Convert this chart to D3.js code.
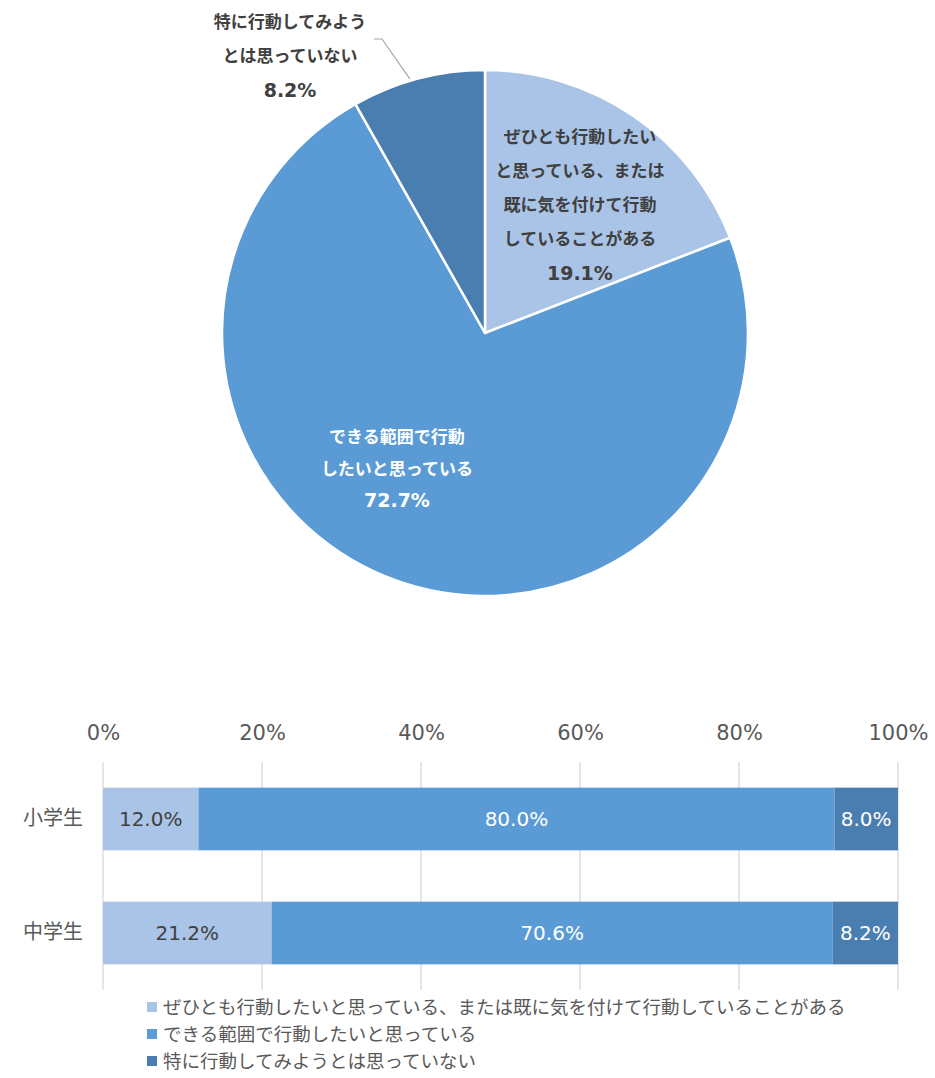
<!DOCTYPE html>
<html>
<head>
<meta charset="utf-8">
<script src="https://cdn.jsdelivr.net/npm/d3@7"></script>
<style>
  html, body { margin: 0; padding: 0; background: #fff; }
  svg { display: block; font-family: "Noto Sans CJK JP", "Noto Sans", sans-serif; }
</style>
</head>
<body>
<svg id="chart" width="935" height="1078"></svg>
<script>
// ---- data ----
const seriesNames = [
  "ぜひとも行動したいと思っている、または既に気を付けて行動していることがある",
  "できる範囲で行動したいと思っている",
  "特に行動してみようとは思っていない"
];
// pie labels (line-broken)
const pieLabelLines = [
  ["ぜひとも行動したい", "と思っている、または", "既に気を付けて行動", "していることがある"],
  ["できる範囲で行動", "したいと思っている"],
  ["特に行動してみよう", "とは思っていない"]
];
const pieValues = [19.1, 72.7, 8.2];

const categories = ["小学生", "中学生"];
const valuesSeries1 = [12.0, 21.2];
const valuesSeries2 = [80.0, 70.6];
const valuesSeries3 = [8.0, 8.2];
const tickValues = [0, 20, 40, 60, 80, 100];

const colors = ["#A9C4E6", "#5B9BD5", "#4A7EB1"];
const pieTextColors = ["#404040", "#ffffff", "#404040"];
const barTextColors = ["#404040", "#ffffff", "#ffffff"];
const numFont = "\"DejaVu Sans\", Verdana, sans-serif";

const svg = d3.select("#chart");

// ---- pie ----
const cx = 485, cy = 333, R = 263;
const pieG = svg.append("g").attr("transform", `translate(${cx},${cy})`);
const pie = d3.pie().sort(null).value(d => d);
const arcs = pie(pieValues);
const arc = d3.arc().innerRadius(0).outerRadius(R);

pieG.selectAll("path.slice")
  .data(arcs)
  .join("path")
  .attr("class", "slice")
  .attr("d", arc)
  .attr("fill", (d, i) => colors[i])
  .attr("stroke", "#fff")
  .attr("stroke-width", 2.5)
  .attr("stroke-linejoin", "round");

// label placement: inner labels near centroid, small slice labelled outside
const labelArc = d3.arc().innerRadius(161).outerRadius(161);
const labelShift = [[4, 5], [-34, -16]];
const lineGap = [34, 32, 34];

function drawLabel(g, x, y, lines, pct, color, gap) {
  const n = lines.length + 1;
  const y0 = y - (n - 1) * gap / 2;
  const t = g.append("text")
    .attr("text-anchor", "middle")
    .attr("font-size", 17)
    .attr("font-weight", "bold")
    .attr("fill", color);
  lines.forEach((s, k) => {
    t.append("tspan")
      .attr("x", x)
      .attr("y", y0 + k * gap)
      .attr("dy", "0.36em")
      .text(s);
  });
  g.append("text")
    .attr("text-anchor", "middle")
    .attr("x", x)
    .attr("y", y0 + lines.length * gap)
    .attr("dy", "0.36em")
    .attr("font-family", numFont)
    .attr("font-size", 19)
    .attr("font-weight", "bold")
    .attr("fill", color)
    .text(pct.toFixed(1) + "%");
}

arcs.forEach((a, i) => {
  if (i < 2) {
    const c = labelArc.centroid(a);
    drawLabel(pieG, c[0] + labelShift[i][0], c[1] + labelShift[i][1],
      pieLabelLines[i], pieValues[i], pieTextColors[i], lineGap[i]);
  } else {
    // outside label with leader line
    const mid = (a.startAngle + a.endAngle) / 2;
    const edge = [Math.sin(mid - 0.03) * (R + 2), -Math.cos(mid - 0.03) * (R + 2)];
    const elbow = [-103, -294];
    pieG.append("polyline")
      .attr("points", [[edge[0], edge[1]], elbow, [elbow[0] - 8, elbow[1]]].map(p => p.join(",")).join(" "))
      .attr("fill", "none")
      .attr("stroke", "#a6a6a6")
      .attr("stroke-width", 1.2);
    drawLabel(pieG, -195, -277, pieLabelLines[i], pieValues[i], pieTextColors[i], lineGap[i]);
  }
});

// ---- stacked 100% bar ----
const x = d3.scaleLinear().domain([0, 100]).range([103, 898]);
const y = d3.scaleBand().domain(categories).range([762, 990])
  .paddingInner(0.45).paddingOuter(0.225);

// gridlines
svg.append("g").selectAll("line")
  .data(tickValues)
  .join("line")
  .attr("x1", d => x(d)).attr("x2", d => x(d))
  .attr("y1", 762).attr("y2", 990)
  .attr("stroke", "#d9d9d9")
  .attr("stroke-width", 1.3);

// top axis labels
const xAxis = d3.axisTop(x).tickValues(tickValues).tickFormat(d => d + "%").tickSize(0).tickPadding(0);
const axG = svg.append("g").attr("transform", "translate(0,740)").call(xAxis);
axG.select(".domain").remove();
axG.selectAll("text")
  .attr("font-size", 21)
  .attr("fill", "#595959")
  .attr("font-family", numFont);

// category labels
const yAxis = d3.axisLeft(y).tickSize(0).tickPadding(0);
const ayG = svg.append("g").attr("transform", "translate(83,0)").call(yAxis);
ayG.select(".domain").remove();
ayG.selectAll("text")
  .attr("font-size", 20)
  .attr("fill", "#595959")
  .attr("font-family", "\"Noto Sans CJK JP\", sans-serif");

const seriesVals = [valuesSeries1, valuesSeries2, valuesSeries3];
const stackData = categories.map((c, j) => {
  const o = { cat: c };
  seriesVals.forEach((s, i) => o["s" + i] = s[j]);
  return o;
});
const stack = d3.stack().keys(["s0", "s1", "s2"]);
const layers = stack(stackData);

const barG = svg.append("g");
layers.forEach((layer, i) => {
  const g = barG.append("g");
  g.selectAll("rect")
    .data(layer)
    .join("rect")
    .attr("x", d => x(d[0]))
    .attr("y", d => y(d.data.cat))
    .attr("width", d => x(d[1]) - x(d[0]))
    .attr("height", y.bandwidth())
    .attr("fill", colors[i]);
  g.selectAll("text")
    .data(layer)
    .join("text")
    .attr("x", d => (x(d[0]) + x(d[1])) / 2)
    .attr("y", d => y(d.data.cat) + y.bandwidth() / 2)
    .attr("dy", "0.36em")
    .attr("text-anchor", "middle")
    .attr("font-family", numFont)
    .attr("font-size", 20)
    .attr("fill", barTextColors[i])
    .text(d => (d[1] - d[0]).toFixed(1) + "%");
});

// ---- legend ----
const legend = svg.append("g").attr("transform", "translate(147,1007)");
seriesNames.forEach((name, i) => {
  const row = legend.append("g").attr("transform", `translate(0,${i * 27})`);
  row.append("rect")
    .attr("x", 0).attr("y", -5)
    .attr("width", 10).attr("height", 10)
    .attr("fill", colors[i]);
  row.append("text")
    .attr("x", 16).attr("y", 0).attr("dy", "0.36em")
    .attr("font-size", 18.5)
    .attr("fill", "#595959")
    .text(name);
});
</script>
</body>
</html>
